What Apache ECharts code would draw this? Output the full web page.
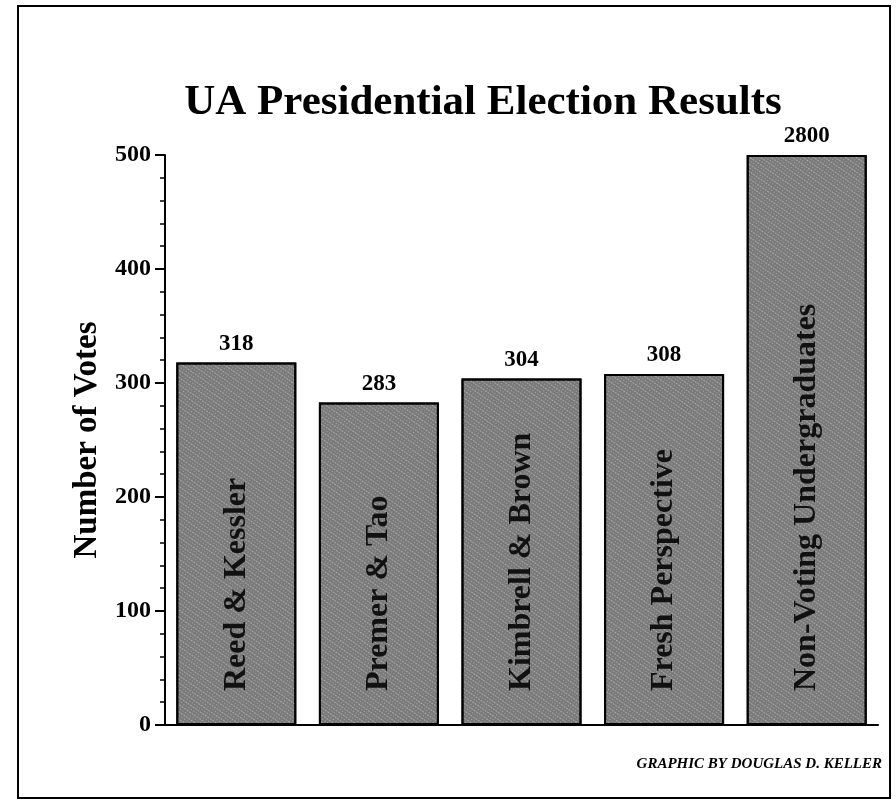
<!DOCTYPE html>
<html>
<head>
<meta charset="utf-8">
<script src="https://cdn.jsdelivr.net/npm/echarts@6/dist/echarts.min.js"></script>
<style>
html,body{margin:0;padding:0;background:#fff;}
#c{width:896px;height:804px;}
</style>
</head>
<body>
<div id="c"></div>
<script>
var categories = ['Reed & Kessler', 'Premer & Tao', 'Kimbrell & Brown', 'Fresh Perspective', 'Non-Voting Undergraduates'];
var votes = [318, 283, 304, 308, 2800];
var yTicks = [0, 100, 200, 300, 400, 500];
var axisMax = 500;

var SERIF = '"Liberation Serif", "DejaVu Serif", serif';
var chart = echarts.init(document.getElementById('c'));
chart.setOption({
  backgroundColor: '#fff',
  animation: false,
  title: {
    text: 'UA Presidential Election Results',
    left: 478, top: 76, textAlign: 'center',
    textStyle: { fontFamily: SERIF, fontWeight: 'bold', fontSize: 43, color: '#000' }
  },
  grid: { left: 165, right: 18, top: 155, bottom: 79 },
  xAxis: {
    type: 'category',
    data: categories,
    axisLine: { lineStyle: { color: '#000', width: 2 } },
    axisTick: { show: false },
    axisLabel: {
      inside: true, rotate: 90, margin: 34,
      fontFamily: SERIF, fontWeight: 'bold', fontSize: 32, color: '#111'
    },
    z: 10
  },
  yAxis: {
    type: 'value',
    min: 0, max: axisMax, interval: 100,
    name: 'Number of Votes',
    nameLocation: 'middle', nameGap: 60, nameRotate: 90,
    nameTextStyle: { fontFamily: SERIF, fontWeight: 'bold', fontSize: 33, color: '#000' },
    axisLine: { show: true, lineStyle: { color: '#000', width: 2 } },
    axisTick: { show: true, length: 10, lineStyle: { color: '#000', width: 2 } },
    minorTick: { show: true, splitNumber: 5, length: 5, lineStyle: { color: '#000', width: 1.5 } },
    splitLine: { show: false },
    axisLabel: {
      margin: 14,
      fontFamily: SERIF, fontWeight: 'bold', fontSize: 24, color: '#000',
      formatter: function (v) { return yTicks.indexOf(v) >= 0 ? String(v) : ''; }
    }
  },
  series: [{
    type: 'bar',
    data: votes.map(function (v) { return { value: Math.min(v, axisMax), raw: v }; }),
    barWidth: 120,
    itemStyle: {
      color: '#7a7a7a',
      borderColor: '#000',
      borderWidth: 2,
      decal: {
        symbol: 'rect',
        symbolSize: 1,
        color: 'rgba(255,255,255,0.35)',
        dashArrayX: [[1, 2], [2, 1]],
        dashArrayY: [1, 2],
        rotation: 0.6
      }
    },
    label: {
      show: true, position: 'top', distance: 7,
      fontFamily: SERIF, fontWeight: 'bold', fontSize: 23, color: '#000',
      formatter: function (p) { return String(p.data.raw); }
    }
  }],
  graphic: [
    {
      type: 'rect',
      shape: { x: 18, y: 6, width: 872, height: 792 },
      style: { fill: 'none', stroke: '#000', lineWidth: 2 }
    },
    {
      type: 'text',
      right: 14, top: 757,
      style: {
        text: 'GRAPHIC BY DOUGLAS D. KELLER',
        font: 'italic bold 15px ' + SERIF,
        fill: '#000'
      }
    }
  ]
});
</script>
</body>
</html>
